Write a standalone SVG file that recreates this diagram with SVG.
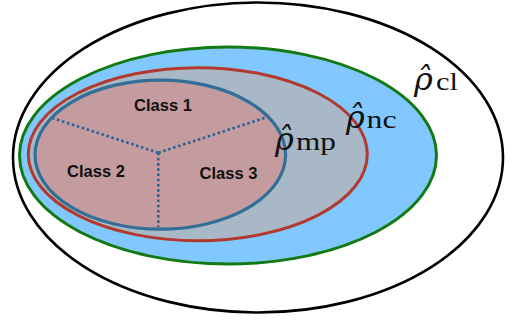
<svg xmlns="http://www.w3.org/2000/svg" width="513" height="324" viewBox="0 0 513 324">
<style>
.cls{font-family:"Liberation Sans",Arial,sans-serif;font-weight:bold;font-size:16.5px;fill:#111;text-anchor:middle}
.lab{fill:#111}
.rho{font-family:"DejaVu Serif",serif;font-style:italic;font-size:32px}
.sub{font-family:"Liberation Serif","Times New Roman",serif;font-size:25px}
.dot{stroke:#2a6394;stroke-width:2.6;stroke-dasharray:2.6 2.6;fill:none}
</style>
<rect width="513" height="324" fill="#ffffff"/>
<g id="cl">
<ellipse cx="258" cy="157.5" rx="245" ry="155" fill="#ffffff" stroke="#000" stroke-width="2.6"/>
</g>
<g id="nc">
<ellipse cx="228" cy="155.5" rx="208.5" ry="108.5" fill="#80c8ff" stroke="#127a12" stroke-width="3"/>
</g>
<g id="mp">
<ellipse cx="197.8" cy="154.2" rx="169.5" ry="86.5" fill="#a8b8c6" stroke="#b3392d" stroke-width="3"/>
</g>
<g id="classes">
<ellipse cx="160.3" cy="154.7" rx="125.3" ry="74.5" fill="#c49b9f" stroke="#326f98" stroke-width="3.2"/>
</g>
<g id="connectors">
<line class="dot" x1="158.3" y1="152.7" x2="53" y2="118.3"/>
<line class="dot" x1="158.3" y1="152.7" x2="266.7" y2="117.3"/>
<line class="dot" x1="158.3" y1="152.7" x2="158.3" y2="227"/>
</g>
<g id="class1"><text class="cls" x="163" y="110.5">Class 1</text></g>
<g id="class2"><text class="cls" x="96" y="177">Class 2</text></g>
<g id="class3"><text class="cls" x="228.5" y="179">Class 3</text></g>
<g id="label-mp">
<text class="lab"><tspan class="rho" x="275" y="150">ρ̂</tspan><tspan class="sub" x="296" y="150" textLength="40" lengthAdjust="spacingAndGlyphs">mp</tspan></text>
</g>
<g id="label-nc">
<text class="lab"><tspan class="rho" x="346" y="127.5">ρ̂</tspan><tspan class="sub" x="366.5" y="127.5" textLength="30" lengthAdjust="spacingAndGlyphs">nc</tspan></text>
</g>
<g id="label-cl">
<text class="lab"><tspan class="rho" x="414" y="90">ρ̂</tspan><tspan class="sub" x="436" y="90" textLength="22" lengthAdjust="spacingAndGlyphs">cl</tspan></text>
</g>
</svg>
